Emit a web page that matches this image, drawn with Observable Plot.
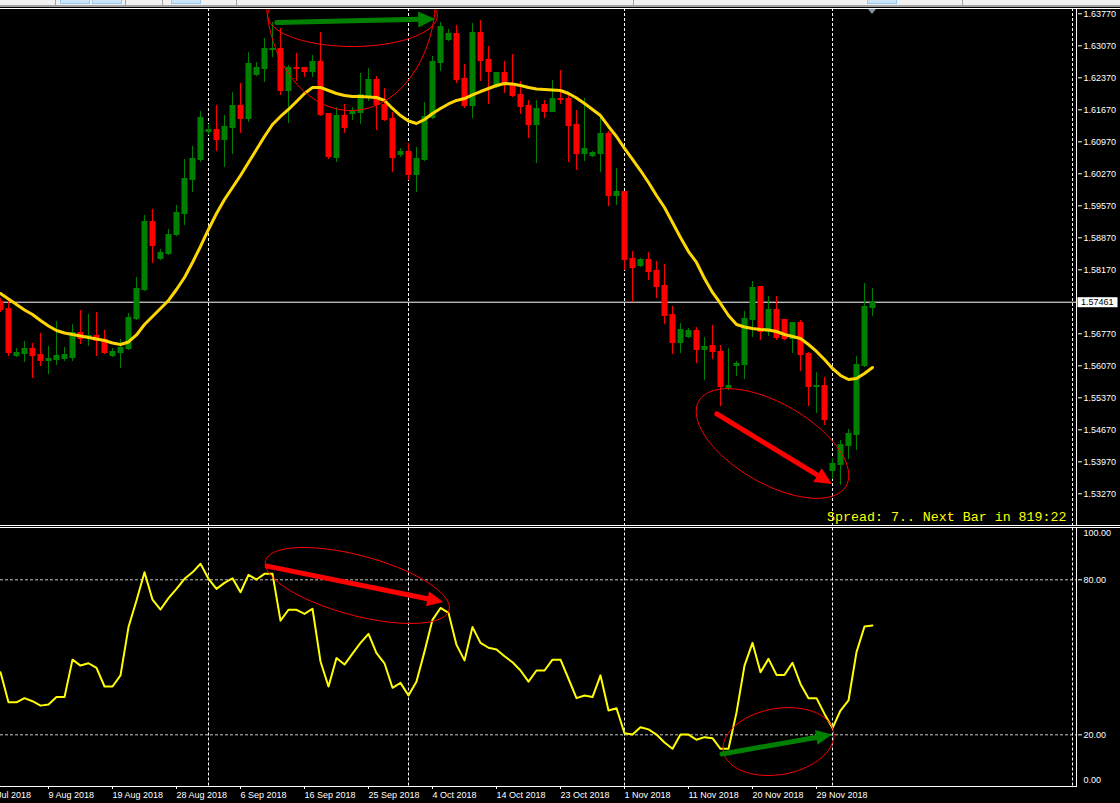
<!DOCTYPE html>
<html><head><meta charset="utf-8">
<script src="https://cdn.jsdelivr.net/npm/d3@7"></script>
<script src="https://cdn.jsdelivr.net/npm/@observablehq/plot@0.6"></script>
<style>
html,body{margin:0;padding:0;background:#000;width:1120px;height:803px;overflow:hidden}
#tb{position:absolute;left:0;top:0;width:1120px;height:5px;background:#f0f0f0}
#tb2{position:absolute;left:0;top:5px;width:1120px;height:2px;background:#a0a0a0}
.tab{position:absolute;top:0;height:3px;background:#cce4f7;border:1px solid #99c9ef;border-top:none}
.sep{position:absolute;top:0;height:5px;width:1px;background:#a0a0a0}
#main{position:absolute;left:0;top:8px}
#osc{position:absolute;left:0;top:526px}
svg{overflow:hidden;display:block}
</style></head><body>
<div id="tb">
<div class="sep" style="left:55px"></div><div class="tab" style="left:60px;width:28px"></div><div class="tab" style="left:92px;width:28px"></div>
<div class="sep" style="left:125px"></div><div class="sep" style="left:162px"></div><div class="tab" style="left:171px;width:28px"></div>
<div class="sep" style="left:236px"></div><div class="sep" style="left:633px"></div><div class="tab" style="left:867px;width:28px"></div><div class="sep" style="left:962px"></div>
</div>
<div id="tb2"></div>
<div id="main"></div><div id="osc"></div>
<script>
// ---------- data (daily bars, index 0 = 2 Aug 2018) ----------
const opens = [
1.57477,1.57323,1.56274,1.56317,1.56449,1.56317,1.56164,1.56186,1.56208,1.56230,
1.56799,1.56667,1.56733,1.56645,1.56274,1.56339,1.56427,1.57082,1.57717,1.59227,
1.58395,1.58505,1.58920,1.59380,1.60124,1.60561,1.61174,1.61239,1.60999,1.61261,
1.61764,1.61458,1.62420,1.62552,1.62967,1.63011,1.62070,1.62595,1.62595,1.62486,
1.62727,1.61589,1.60605,1.61545,1.61567,1.61589,1.61961,1.62333,1.61786,1.61480,
1.60671,1.60758,1.60233,1.60561,1.61480,1.62683,1.63186,1.63339,1.62355,1.61742,
1.63361,1.62770,1.62158,1.62486,1.62245,1.62005,1.61764,1.61327,1.61786,1.61611,
1.61917,1.61917,1.61349,1.60692,1.60649,1.60692,1.61152,1.59774,1.59883,1.58417,
1.58242,1.58395,1.58155,1.57827,1.57191,1.56558,1.56689,1.56842,1.56405,1.56514,
1.56383,1.55574,1.56055,1.56077,1.57061,1.57805,1.56799,1.57301,1.57082,1.56645,
1.57017,1.56339,1.55595,1.55639,1.53758,1.53889,1.54305,1.54545,1.56055,1.57323];
const highs = [
1.57542,1.57520,1.56449,1.56602,1.56558,1.56777,1.56492,1.57039,1.56470,1.56974,
1.57279,1.57191,1.57236,1.56842,1.56449,1.56645,1.57214,1.58002,1.59358,1.59489,
1.58614,1.59052,1.59577,1.60583,1.60867,1.61633,1.61349,1.61764,1.61545,1.62049,
1.62245,1.62924,1.62705,1.63230,1.63580,1.63449,1.62639,1.62902,1.62595,1.62858,
1.63361,1.61589,1.61720,1.61786,1.61720,1.62464,1.62574,1.62399,1.62136,1.61611,
1.60824,1.60933,1.60845,1.61830,1.62836,1.63580,1.63427,1.63514,1.62661,1.63558,
1.63624,1.63055,1.62486,1.62727,1.62880,1.62289,1.61874,1.61874,1.61874,1.62311,
1.62530,1.62005,1.61655,1.61917,1.60758,1.61524,1.61195,1.60386,1.59883,1.58570,
1.58417,1.58548,1.58352,1.58286,1.57367,1.56995,1.56886,1.56908,1.56689,1.56952,
1.56514,1.56449,1.56164,1.57257,1.57914,1.57805,1.57586,1.57586,1.57082,1.57017,
1.57061,1.56361,1.55924,1.55814,1.54042,1.54436,1.54677,1.56274,1.57870,1.57761];
const lows = [
1.57236,1.56274,1.56252,1.56142,1.55792,1.56055,1.55880,1.56077,1.56164,1.56164,
1.56536,1.56492,1.56274,1.56317,1.56252,1.56011,1.56405,1.57061,1.57695,1.58308,
1.58373,1.58483,1.58898,1.59139,1.59861,1.60517,1.61108,1.60758,1.60408,1.60692,
1.61152,1.61392,1.62399,1.62267,1.62814,1.61983,1.61370,1.62289,1.62377,1.62377,
1.61524,1.60583,1.60517,1.61152,1.61436,1.61349,1.61852,1.61217,1.61414,1.60299,
1.60627,1.60124,1.59861,1.60539,1.61458,1.62508,1.63164,1.62245,1.61699,1.61480,
1.62289,1.61786,1.62136,1.62027,1.61939,1.61567,1.61042,1.60495,1.61480,1.61611,
1.61786,1.60517,1.60342,1.60539,1.60627,1.60299,1.59555,1.59577,1.58155,1.57455,
1.58220,1.57936,1.57542,1.56974,1.56317,1.56339,1.56667,1.56120,1.55749,1.56208,
1.55180,1.55530,1.55836,1.55770,1.56689,1.56624,1.56711,1.56624,1.56624,1.56339,
1.55945,1.55180,1.55027,1.54764,1.53583,1.53452,1.54020,1.54217,1.56033,1.57148];
const closes = [
1.57279,1.56339,1.56361,1.56449,1.56274,1.56164,1.56230,1.56295,1.56317,1.56799,
1.56645,1.56733,1.56602,1.56339,1.56383,1.56470,1.57126,1.57761,1.59227,1.58680,
1.58548,1.58942,1.59423,1.60167,1.60605,1.61502,1.61239,1.60999,1.61305,1.61764,
1.61458,1.62683,1.62595,1.63011,1.63011,1.62070,1.62595,1.62552,1.62486,1.62727,
1.61545,1.60627,1.61545,1.61261,1.61633,1.62005,1.62333,1.61764,1.61436,1.60605,
1.60758,1.60233,1.60605,1.61524,1.62727,1.63492,1.63339,1.62311,1.61742,1.63361,
1.62727,1.62486,1.62486,1.62202,1.61961,1.61720,1.61327,1.61699,1.61611,1.61917,
1.61874,1.61305,1.60692,1.60824,1.60736,1.61152,1.59774,1.59883,1.58373,1.58199,
1.58395,1.58111,1.57783,1.57148,1.56558,1.56864,1.56842,1.56405,1.56492,1.56361,
1.55595,1.55639,1.56120,1.57104,1.57783,1.56799,1.57301,1.56667,1.56645,1.57017,
1.56295,1.55595,1.55639,1.54874,1.53933,1.54349,1.54589,1.56099,1.57367,1.57461];
const maValues = [
1.57652,1.57531,1.57411,1.57291,1.57192,1.57061,1.56941,1.56842,1.56788,1.56755,
1.56722,1.56689,1.56656,1.56624,1.56569,1.56536,1.56591,1.56744,1.56974,1.57148,
1.57323,1.57499,1.57739,1.58002,1.58330,1.58680,1.59052,1.59402,1.59708,1.59970,
1.60233,1.60517,1.60802,1.61086,1.61349,1.61524,1.61677,1.61852,1.62027,1.62158,
1.62158,1.62092,1.62027,1.61983,1.61961,1.61961,1.61950,1.61939,1.61874,1.61699,
1.61545,1.61425,1.61370,1.61458,1.61589,1.61699,1.61797,1.61874,1.61917,1.61994,
1.62070,1.62136,1.62202,1.62245,1.62234,1.62202,1.62158,1.62125,1.62114,1.62103,
1.62092,1.62027,1.61928,1.61808,1.61677,1.61545,1.61305,1.61086,1.60824,1.60583,
1.60342,1.60079,1.59795,1.59532,1.59205,1.58877,1.58570,1.58330,1.57980,1.57674,
1.57433,1.57170,1.56974,1.56919,1.56886,1.56864,1.56853,1.56820,1.56755,1.56711,
1.56667,1.56536,1.56383,1.56208,1.56011,1.55858,1.55770,1.55792,1.55902,1.56033];
const oscValues = [
44.2,32.6,32.6,34.2,33.0,31.3,31.7,34.6,34.6,49.1,
46.8,47.7,45.9,38.7,38.7,43.0,61.7,72.0,82.9,72.3,
68.5,72.9,76.5,80.4,82.9,86.2,80.4,76.5,78.8,80.6,
75.2,81.9,80.1,82.3,82.3,64.2,68.4,68.4,66.8,68.8,
48.4,38.7,49.7,47.2,51.4,55.6,59.1,51.6,47.7,38.2,
40.1,35.2,40.6,52.2,64.5,69.1,67.2,54.8,48.8,61.7,
55.6,53.7,53.0,50.4,48.1,44.9,40.6,44.9,44.9,49.1,
49.1,41.7,34.2,35.2,34.6,43.0,29.4,30.3,20.6,20.1,
22.9,22.1,20.1,17.0,14.6,20.1,20.1,18.1,19.1,18.7,
14.6,14.6,28.6,46.8,55.6,44.2,49.4,43.2,43.2,47.9,
39.7,34.2,34.2,28.1,22.6,29.4,33.3,52.0,61.9,62.3];

const dateTickIdx = [-2,6,14,22,30,38,46,54,62,70,78,86,94,102];
const dateTickLabels = ["31 Jul 2018","9 Aug 2018","19 Aug 2018","28 Aug 2018","6 Sep 2018","16 Sep 2018","25 Sep 2018","4 Oct 2018","14 Oct 2018","23 Oct 2018","1 Nov 2018","11 Nov 2018","20 Nov 2018","29 Nov 2018"];
const monthSeparators = [26,51,78,104,134];
const priceTicks = [1.6377,1.6307,1.6237,1.6167,1.6097,1.6027,1.5957,1.5887,1.5817,1.5677,1.5607,1.5537,1.5467,1.5397,1.5327];
const bidPrice = 1.57461;
const oscLevels = [20, 80];
const oscTicks = [20, 80];
const spreadText = "Spread: 7.. Next Bar in 819:22";

// drawn objects (in bar index / price or oscillator units)
const priceEllipses = [
  {id:"e1", cx:44, cy:1.63733, ux:10.6, uy:0, vx:0, vy:0.00678},
  {id:"e2", cx:43.8, cy:1.64170, ux:10.6, uy:0, vx:0, vy:0.02516},
  {id:"e3", cx:96.5, cy:1.54370, ux:9.2, uy:-0.0093, vx:-2.5, vy:-0.00757}
];
const priceArrows = [
  {x1:34.6, y1:1.63569, x2:54.4, y2:1.63645, color:"#008000"},
  {x1:89.6, y1:1.55005, x2:104.0, y2:1.53474, color:"#ff0000"}
];
const oscEllipses = [
  {id:"o1", cx:44.6, cy:77.8, ux:11.47, uy:-9.52, vx:-0.97, vy:-11.2},
  {id:"o2", cx:97.25, cy:17.4, ux:6.89, uy:3.76, vx:0.72, vy:-12.58}
];
const oscArrows = [
  {x1:33.4, y1:85.1, x2:55.4, y2:71.2, color:"#ff0000"},
  {x1:90.25, y1:12.4, x2:104.0, y2:19.9, color:"#008000"}
];

// ---------- helpers ----------
const GREEN = "#008000", RED = "#ff0000";
const candles = opens.map((o,i)=>({i, open:o, high:highs[i], low:lows[i], close:closes[i], color: closes[i] >= o ? GREEN : RED}));
const maData = maValues.map((v,i)=>({i, v}));
const oscData = oscValues.map((v,i)=>({i, v}));
const labelOf = new Map(dateTickIdx.map((d,k)=>[d, dateTickLabels[k]]));

function ellipsePts(list){
  const out = [];
  for (const e of list) for (let k=0;k<=120;k++){
    const t = 2*Math.PI*k/120;
    out.push({id:e.id, x:e.cx+Math.cos(t)*e.ux+Math.sin(t)*e.vx, y:e.cy+Math.cos(t)*e.uy+Math.sin(t)*e.vy});
  }
  return out;
}
function arrowMark(arrows, headLen, headHalf){
  return (index, scales) => {
    const g = d3.create("svg:g");
    for (const a of arrows){
      const x1=scales.x(a.x1), y1=scales.y(a.y1), x2=scales.x(a.x2), y2=scales.y(a.y2);
      const dx=x2-x1, dy=y2-y1, L=Math.hypot(dx,dy), ux=dx/L, uy=dy/L;
      const bx=x2-ux*headLen, by=y2-uy*headLen;
      g.append("line").attr("x1",x1).attr("y1",y1).attr("x2",bx+ux*1).attr("y2",by+uy*1)
        .attr("stroke",a.color).attr("stroke-width",5).attr("stroke-linecap","round");
      g.append("polygon").attr("fill",a.color)
        .attr("points",[[x2,y2],[bx-uy*headHalf,by+ux*headHalf],[bx+uy*headHalf,by-ux*headHalf]].map(p=>p.join(",")).join(" "));
    }
    return g.node();
  };
}
function lineMark(fn){
  return (index, scales, values, dim) => {
    const g = d3.create("svg:g");
    for (const l of fn(dim, scales)){
      g.append("line").attr("x1",l[0]).attr("y1",l[1]).attr("x2",l[2]).attr("y2",l[3]).attr("stroke",l[4]||"#fff").attr("stroke-width",1);
    }
    return g.node();
  };
}

const W = 1120, MR = 43;
const font = "'Liberation Sans', Arial, sans-serif";

// ---------- main price pane ----------
const main = Plot.plot({
  width: W, height: 518,
  marginLeft: 0, marginRight: MR, marginTop: 0, marginBottom: 0,
  style: {background:"#000", color:"#fff", fontFamily: font, fontSize:"9px", overflow:"hidden"},
  x: {domain:[0,134.625], axis:null},
  y: {domain:[1.5327,1.6377], range:[485.3,5.3], axis:null},
  color: {type:"identity"},
  marks: [
    Plot.ruleX(monthSeparators, {stroke:"#fff", strokeDasharray:"3,2"}),
    Plot.ruleY([bidPrice], {stroke:"#fff"}),
    Plot.ruleX(candles, {x:"i", y1:"low", y2:"high", stroke:"color", strokeWidth:1, clip:true}),
    Plot.ruleX(candles, {x:"i", y1:"open", y2:"close", stroke:"color", strokeWidth:6, clip:true}),
    Plot.line(maData, {x:"i", y:"v", stroke:"#ffd700", strokeWidth:3, clip:true}),
    Plot.line(ellipsePts(priceEllipses), {x:"x", y:"y", z:"id", stroke:"#ff0000", strokeWidth:1, clip:true}),
    arrowMark(priceArrows, 17, 8),
    Plot.text([spreadText], {frameAnchor:"bottom-right", dx:-11, dy:-6, fill:"#ffff00", fontFamily:"'Liberation Mono', 'Courier New', monospace", fontSize:13.3}),
    Plot.axisY({anchor:"right", ticks: priceTicks, tickFormat: d=>d.toFixed(5), tickSize:4, tickPadding:2, stroke:"#fff", fill:"#fff"}),
    (index, scales, values, dim) => {
      const g = d3.create("svg:g");
      const y = scales.y(bidPrice);
      g.append("rect").attr("x",1077.5).attr("y",y-4.5).attr("width",40).attr("height",10).attr("fill","#fff");
      g.append("text").attr("x",1081).attr("y",y+0.5).attr("dy","0.32em").attr("text-anchor","start")
        .attr("fill","#000").attr("font-size","9px").text(bidPrice.toFixed(5));
      const tx = scales.x(109);
      g.append("polygon").attr("points",`${tx-4.5},0.5 ${tx+4.5},0.5 ${tx},6`).attr("fill","#7f8ea0");
      return g.node();
    },
    lineMark((d) => [
      [0,0.5,W,0.5],
      [W-MR-0.5,0.5,W-MR-0.5,517.5],
      [0,517.5,W,517.5]
    ])
  ]
});
document.getElementById("main").appendChild(main);

// ---------- oscillator pane ----------
const osc = Plot.plot({
  width: W, height: 277,
  marginLeft: 0, marginRight: MR, marginTop: 1.5, marginBottom: 17,
  style: {background:"#000", color:"#fff", fontFamily: font, fontSize:"9px", overflow:"hidden"},
  x: {domain:[0,134.625], axis:null},
  y: {domain:[0,100], range:[260,1.63], axis:null},
  marks: [
    Plot.ruleY(oscLevels, {stroke:"#c8c8c8", strokeDasharray:"3,2"}),
    Plot.ruleX(monthSeparators, {stroke:"#fff", strokeDasharray:"3,2"}),
    Plot.line(oscData, {x:"i", y:"v", stroke:"#ffff00", strokeWidth:2, clip:true}),
    Plot.line(ellipsePts(oscEllipses), {x:"x", y:"y", z:"id", stroke:"#ff0000", strokeWidth:1, clip:true}),
    arrowMark(oscArrows, 16, 7.5),
    Plot.axisY({anchor:"right", ticks: oscTicks, tickFormat: d=>d.toFixed(2), tickSize:4, tickPadding:2, stroke:"#fff", fill:"#fff"}),
    Plot.text([100], {x:()=>134.625, y:d=>d, text:d=>d.toFixed(2), dx:6, dy:4.5, textAnchor:"start", fill:"#fff"}),
    Plot.text([0], {x:()=>134.625, y:d=>d, text:d=>d.toFixed(2), dx:6, dy:-6, textAnchor:"start", fill:"#fff"}),
    Plot.axisX({anchor:"bottom", ticks: dateTickIdx, tickFormat: d=>labelOf.get(d), tickSize:3, tickPadding:2, textAnchor:"start", stroke:"#fff", fill:"#fff"}),
    lineMark((d) => [
      [0,1.5,W,1.5],
      [W-MR-0.5,1.5,W-MR-0.5,260.5],
      [0,260.5,W-MR,260.5]
    ])
  ]
});
document.getElementById("osc").appendChild(osc);
</script></body></html>
